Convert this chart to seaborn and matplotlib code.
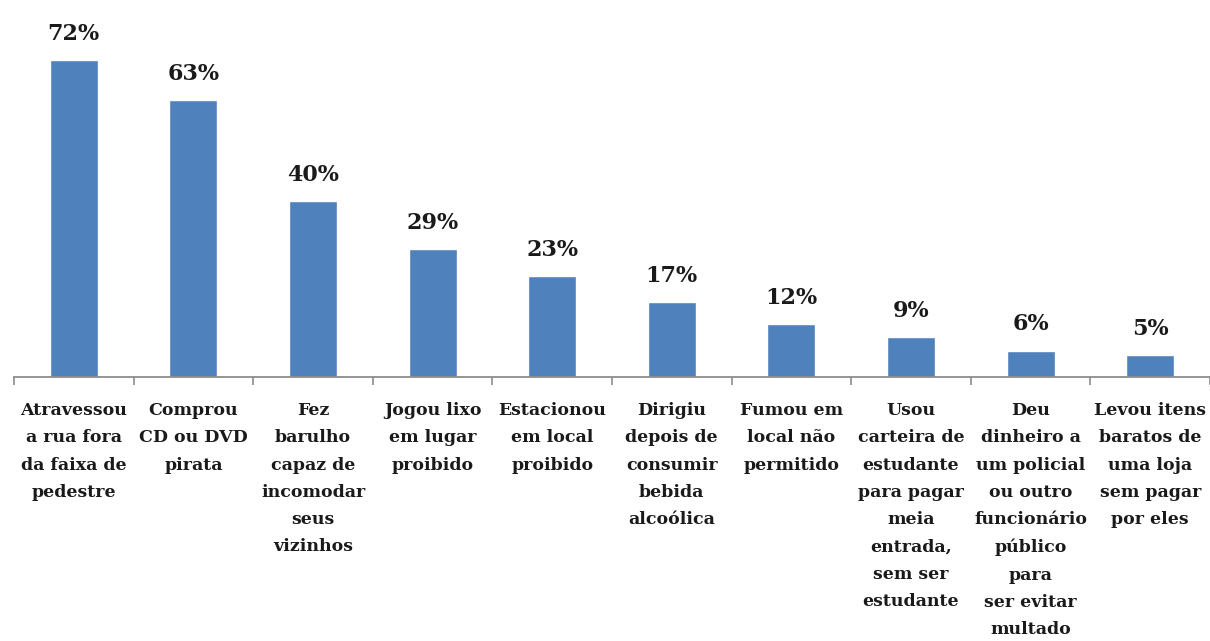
import matplotlib
matplotlib.use("Agg")
import matplotlib.pyplot as plt
import seaborn as sns
import numpy as np

categories = [
    "Atravessou\na rua fora\nda faixa de\npedestre",
    "Comprou\nCD ou DVD\npirata",
    "Fez\nbarulho\ncapaz de\nincomodar\nseus\nvizinhos",
    "Jogou lixo\nem lugar\nproibido",
    "Estacionou\nem local\nproibido",
    "Dirigiu\ndepois de\nconsumir\nbebida\nalcoólica",
    "Fumou em\nlocal não\npermitido",
    "Usou\ncarteira de\nestudante\npara pagar\nmeia\nentrada,\nsem ser\nestudante",
    "Deu\ndinheiro a\num policial\nou outro\nfuncionário\npúblico\npara\nser evitar\nmultado",
    "Levou itens\nbaratos de\numa loja\nsem pagar\npor eles",
]
values = [72, 63, 40, 29, 23, 17, 12, 9, 6, 5]
value_labels = ["72%", "63%", "40%", "29%", "23%", "17%", "12%", "9%", "6%", "5%"]

sns.set_style("white")
plt.rcParams['font.family'] = ['DejaVu Serif']

W, H = 1210, 641
fig = plt.figure(figsize=(W / 100, H / 100), dpi=100)
ax = fig.add_axes([14 / W, 1 - 377 / H, 1196 / W, (377 - 25) / H])

sns.barplot(x=categories, y=values, color="#4F81BD", width=0.4, saturation=1, ax=ax)

ax.set_xlim(-0.5, len(categories) - 0.5)
ax.set_ylim(0, 80)
ax.set_yticks([])
for s in ["top", "right", "left"]:
    ax.spines[s].set_visible(False)
ax.spines["bottom"].set_color("#8c8c8c")
ax.spines["bottom"].set_linewidth(1.3)

ax.set_xticks(np.arange(-0.5, len(categories) + 0.5, 1), minor=True)
ax.tick_params(axis="x", which="minor", length=6, width=1.2, color="#8c8c8c", direction="out", bottom=True)
ax.tick_params(axis="x", which="major", length=0, pad=18)
for lbl in ax.get_xticklabels():
    lbl.set_fontsize(12.5)
    lbl.set_fontweight("bold")
    lbl.set_color("#1a1a1a")
    lbl.set_linespacing(1.79)
    lbl.set_verticalalignment("top")

for i, (v, t) in enumerate(zip(values, value_labels)):
    ax.annotate(t, (i, v), xytext=(0, 11), textcoords="offset points",
                ha="center", va="bottom", fontsize=16, fontweight="bold", color="#1a1a1a")

ax.set_xlabel("")
ax.set_ylabel("")
fig.savefig("out.png", dpi=100)
